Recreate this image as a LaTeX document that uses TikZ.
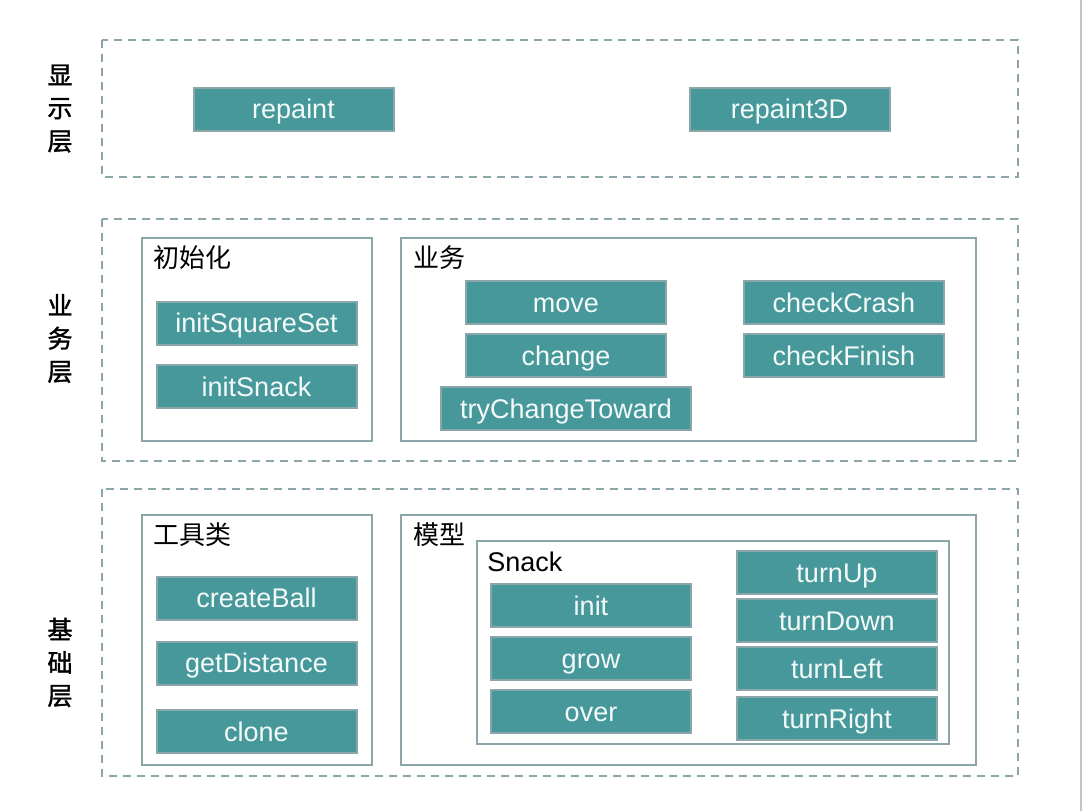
\documentclass[tikz,border=0pt]{standalone}
\usepackage{fontspec}
\setmainfont{Liberation Sans}
\newfontfamily\cjk{Noto Sans CJK SC}
\newfontfamily\cjkbold[FakeBold=1.5]{Noto Sans CJK SC}
\usepackage{tikz}
\usetikzlibrary{positioning}
\definecolor{fnfill}{HTML}{47989A}
\definecolor{fnline}{HTML}{8AA6A8}
\definecolor{fntext}{HTML}{F4FAFA}
\definecolor{edge}{HTML}{C4C4C4}

\begin{document}
\begin{tikzpicture}[x=0.5pt,y=-0.5pt,
 fn/.style={draw=fnline, line width=1pt, fill=fnfill, text=fntext, inner sep=0pt, outer sep=0pt, minimum width=100pt, minimum height=21.5pt, text height=12pt, text depth=2.3pt, font=\fontsize{13.5}{16}\selectfont},
 grp/.style={draw=fnline, line width=1pt},
 lyr/.style={draw=fnline, line width=1pt, dash pattern=on 4pt off 3pt},
 ttl/.style={anchor=west, inner sep=0pt, font=\cjk\fontsize{13}{15}\selectfont},
 lyrname/.style={align=center, inner sep=0pt, font=\cjkbold\fontsize{12.5}{16.5}\selectfont}]

\useasboundingbox (0,0) rectangle (1083,811);
\draw[edge, line width=1pt] (1081,0) -- (1081,811);

% layers
\draw[lyr] (102,40) rectangle (1018,177);
\draw[lyr] (102,219) rectangle (1018,461);
\draw[lyr] (102,489) rectangle (1018,776);
\node[lyrname] (show) at (60,108.5) {显\\示\\层};
\node[lyrname] (biz) at (60,338.5) {业\\务\\层};
\node[lyrname] (base) at (60,662.5) {基\\础\\层};

% display
\node[fn] (repaint) at (293.5,109) {repaint};
\node[fn] (repaintD) at (789.5,109) {repaint3D};

% business
\draw[grp] (142,238) rectangle (372,441);
\node[ttl] (initT) at (153,258) {初始化};
\node[fn] (initSquareSet) at (256.5,323) {initSquareSet};
\node[fn] (initSnack) at (256.5,386.5) {initSnack};

\draw[grp] (401,238) rectangle (976,441);
\node[ttl] (bizT) at (413,258) {业务};
\node[fn] (move) at (566,302.5) {move};
\node[fn, below=5pt of move] (change) {change};
\node[fn, minimum width=125pt, below=5pt of change] (tryChangeToward) {tryChangeToward};
\node[fn] (checkCrash) at (844,302.5) {checkCrash};
\node[fn, below=5pt of checkCrash] (checkFinish) {checkFinish};

% base
\draw[grp] (142,515) rectangle (372,765);
\node[ttl] (toolT) at (153,535) {工具类};
\node[fn] (createBall) at (256.5,598) {createBall};
\node[fn] (getDistance) at (256.5,663) {getDistance};
\node[fn] (clone) at (256.5,731.5) {clone};

\draw[grp] (401,515) rectangle (976,765);
\node[ttl] (modelT) at (413,535) {模型};
\draw[grp] (477,541) rectangle (949,744);
\node[anchor=west, inner sep=0pt, font=\fontsize{13.5}{16}\selectfont] (snackT) at (487,562) {Snack};
\node[fn] (init) at (591,605.5) {init};
\node[fn, below=5pt of init] (grow) {grow};
\node[fn, below=5pt of grow] (over) {over};
\node[fn] (turnUp) at (837,572.5) {turnUp};
\node[fn, below=2.5pt of turnUp] (turnDown) {turnDown};
\node[fn, below=2.5pt of turnDown] (turnLeft) {turnLeft};
\node[fn, below=3.5pt of turnLeft] (turnRight) {turnRight};
\end{tikzpicture}
\end{document}
